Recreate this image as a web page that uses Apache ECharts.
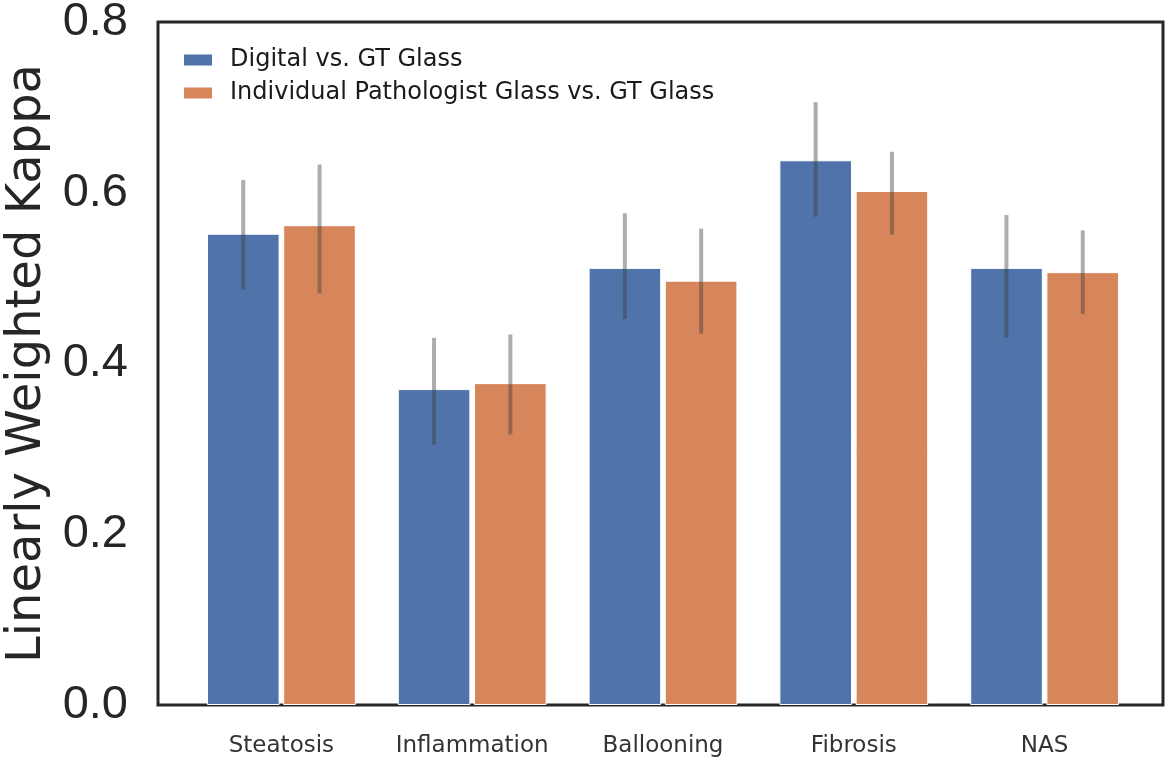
<!DOCTYPE html>
<html>
<head>
<meta charset="utf-8">
<script src="https://cdn.jsdelivr.net/npm/echarts@6/dist/echarts.min.js"></script>
<style>
  html, body { margin: 0; padding: 0; background: #fff; }
  #chart { width: 1168px; height: 757px; }
</style>
</head>
<body>
<div id="chart"></div>
<script>
const categories = ['Steatosis', 'Inflammation', 'Ballooning', 'Fibrosis', 'NAS'];
const seriesNames = ['Digital vs. GT Glass', 'Individual Pathologist Glass vs. GT Glass'];

// kappa values and CI ends
const digitalKappa = [0.552, 0.370, 0.512, 0.638, 0.512];
const digitalLow = [0.487, 0.305, 0.452, 0.572, 0.430];
const digitalHigh = [0.615, 0.430, 0.576, 0.706, 0.574];

const glassKappa = [0.562, 0.377, 0.497, 0.602, 0.507];
const glassLow = [0.482, 0.317, 0.435, 0.551, 0.458];
const glassHigh = [0.633, 0.434, 0.558, 0.648, 0.556];

const yTickLabels = ['0.0', '0.2', '0.4', '0.6', '0.8'];

const blue = '#5073aa';
const orange = '#d7855a';

// one vertical line per category, shifted onto its bar
const errorBars = (name, low, high, shift) => ({
  type: 'custom',
  name: name,
  xAxisIndex: 1,
  yAxisIndex: 1,
  z: 10,
  silent: true,
  data: categories.map((c, i) => [i, low[i], high[i]]),
  encode: { x: 0, y: [1, 2] },
  renderItem: (params, api) => {
    const i = api.value(0);
    const lo = api.coord([i, api.value(1)]);
    const hi = api.coord([i, api.value(2)]);
    const band = api.size([1, 0])[0];
    const x = lo[0] + band * shift;
    return {
      type: 'line',
      shape: { x1: x, y1: lo[1], x2: x, y2: hi[1] },
      style: { stroke: 'rgba(60,60,60,0.42)', lineWidth: 4 }
    };
  }
});

const chart = echarts.init(document.getElementById('chart'));

chart.setOption({
  animation: false,
  backgroundColor: '#fff',
  legend: {
    data: seriesNames,
    orient: 'vertical',
    left: 182,
    top: 46,
    padding: 0,
    icon: 'rect',
    itemWidth: 30,
    itemHeight: 13,
    itemGap: 5,
    textStyle: {
      fontFamily: 'DejaVu Sans',
      fontSize: 24,
      color: '#1a1a1a',
      lineHeight: 28,
      padding: [0, 0, 0, 12]
    }
  },
  grid: [
    {
      // frame + y axis
      left: 158, right: 5, top: 22, bottom: 52,
      show: true, borderColor: '#262626', borderWidth: 3,
      outerBoundsMode: 'none'
    },
    {
      // bars
      left: 186, right: 28, top: 22, bottom: 52,
      outerBoundsMode: 'none'
    }
  ],
  xAxis: [
    { type: 'category', gridIndex: 0, data: categories, show: false },
    {
      type: 'category',
      gridIndex: 1,
      data: categories,
      axisLine: { show: false },
      axisTick: { show: false },
      axisLabel: { interval: 0, fontFamily: 'DejaVu Sans', fontSize: 23, color: '#333', margin: 30 }
    }
  ],
  yAxis: [
    {
      type: 'value',
      gridIndex: 0,
      min: 0,
      max: 0.8,
      interval: 0.2,
      name: 'Linearly Weighted Kappa',
      nameLocation: 'middle',
      nameGap: 106,
      nameTextStyle: { fontFamily: 'DejaVu Sans', fontSize: 48, color: '#262626' },
      axisLine: { show: false },
      axisTick: { show: false },
      splitLine: { show: false },
      axisLabel: {
        fontFamily: 'Liberation Sans',
        fontSize: 47,
        color: '#262626',
        margin: 30,
        formatter: v => yTickLabels[Math.round(v / 0.2)]
      }
    },
    { type: 'value', gridIndex: 1, min: 0, max: 0.8, show: false }
  ],
  series: [
    {
      name: seriesNames[0],
      type: 'bar',
      xAxisIndex: 1,
      yAxisIndex: 1,
      data: digitalKappa,
      barCategoryGap: '22%',
      barGap: '5%',
      itemStyle: { color: blue, borderColor: '#fff', borderWidth: 1 }
    },
    {
      name: seriesNames[1],
      type: 'bar',
      xAxisIndex: 1,
      yAxisIndex: 1,
      data: glassKappa,
      barCategoryGap: '22%',
      barGap: '5%',
      itemStyle: { color: orange, borderColor: '#fff', borderWidth: 1 }
    },
    errorBars('digital CI', digitalLow, digitalHigh, -0.2),
    errorBars('glass CI', glassLow, glassHigh, 0.2)
  ]
});
</script>
</body>
</html>
